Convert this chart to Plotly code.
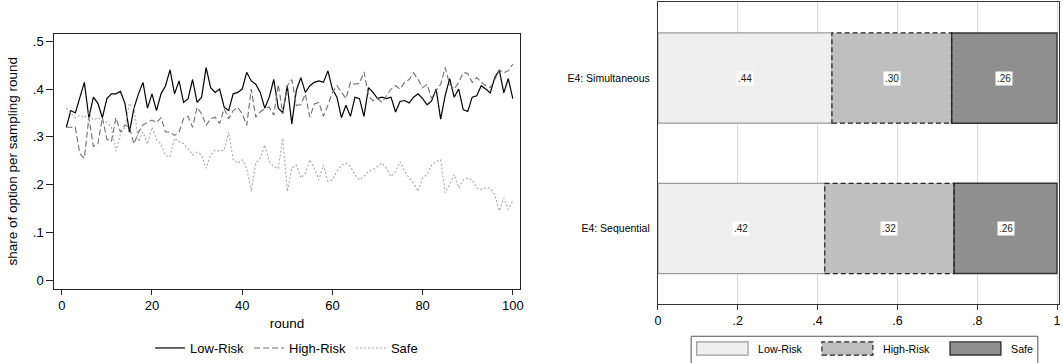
import plotly.graph_objects as go

# ---------------- data ----------------
rounds = list(range(1, 101))

low_risk = [
    .32, .355, .35, .385, .414, .34, .383, .37, .34, .38, .39, .39, .395, .37, .31, .36, .39, .414, .36, .39, .355, .39, .407, .44,
    .39, .417, .372, .38, .42, .372, .383, .445, .403, .393, .40, .362, .355, .39, .393, .40, .435, .417, .41, .393, .36, .383, .42, .36, .35, .407,
    .327, .397, .424, .393, .407, .414, .417, .414, .438, .40, .383, .34, .366, .343, .383, .38, .343, .403, .393, .38, .383, .38, .383, .352, .374, .376, .371,
    .383, .39, .38, .367, .375, .40, .337, .386, .422, .383, .40, .357, .353, .383, .386, .407, .40, .392, .424, .44, .392, .422, .38,
]
high_risk = [
    .32, .32, .32, .265, .255, .34, .28, .285, .34, .295, .29, .34, .31, .325, .32, .285, .31, .325, .33, .335, .33, .34, .31,
    .31, .303, .31, .338, .343, .32, .362, .348, .324, .338, .341, .328, .359, .338, .355, .362, .348, .324, .40, .341, .352, .359, .362, .345, .41, .348, .407, .42,
    .366, .367, .39, .341, .369, .372, .343, .366, .393, .407, .393, .38, .414, .41, .412, .436, .386, .376, .38, .372, .386, .40, .407, .40, .414, .42, .434,
    .42, .403, .41, .38, .397, .41, .445, .41, .40, .414, .434, .433, .414, .424, .414, .407, .403, .42, .44, .434, .438, .452,
]
safe = [
    .36, .35, .34, .345, .34, .35, .335, .34, .335, .33, .32, .27, .305, .32, .37, .36, .29, .31, .285, .32, .295, .285, .26,
    .259, .297, .29, .286, .276, .262, .268, .262, .234, .262, .272, .27, .272, .31, .252, .245, .252, .234, .186, .245, .255, .283, .248, .238, .234, .297, .186, .234,
    .241, .214, .224, .252, .234, .21, .241, .207, .21, .228, .241, .245, .238, .221, .21, .217, .228, .231, .238, .245, .234, .217, .228, .248, .228, .214, .203,
    .186, .214, .221, .241, .248, .252, .183, .2, .221, .193, .21, .214, .21, .193, .19, .193, .193, .179, .145, .172, .148, .166,
]
series_names = ["Low-Risk", "High-Risk", "Safe"]

# right panel (bottom-to-top order)
conditions = ["E4: Sequential", "E4: Simultaneous"]
share_low = [.418, .436]
share_high = [.324, .300]
share_safe = [.258, .264]

y_ticks = [0, .1, .2, .3, .4, .5]
y_ticktext = ["0", ".1", ".2", ".3", ".4", ".5"]
x_ticks = [0, 20, 40, 60, 80, 100]
bar_ticks = [0, .2, .4, .6, .8, 1]
bar_ticktext = ["0", ".2", ".4", ".6", ".8", "1"]

# ---------------- geometry helpers ----------------
W, H = 1063, 363
def px(x):
    return x / W
def py(y):
    return 1 - y / H

FONT = "Liberation Sans, Arial, sans-serif"

fig = go.Figure()

line_styles = [
    dict(color="black", width=1.2, dash="solid"),
    dict(color="#6e6e6e", width=1.1, dash="6px,3px"),
    dict(color="#a8a8a8", width=1.1, dash="2px,2px"),
]
for name, vals, st in zip(series_names, [low_risk, high_risk, safe], line_styles):
    fig.add_trace(go.Scatter(x=rounds, y=vals, mode="lines", name=name, line=st,
                             xaxis="x", yaxis="y", legend="legend"))

# stacked bars
fills = ["#efefef", "#bfbfbf", "#8f8f8f"]
outlines = [dict(color="#9a9a9a", width=1.2), dict(color="rgba(0,0,0,0)", width=0), dict(color="#333333", width=1.4)]
shares = [share_low, share_high, share_safe]
bases = [[0, 0], share_low, [a + b for a, b in zip(share_low, share_high)]]
for name, vals, base, fc, ol in zip(series_names, shares, bases, fills, outlines):
    fig.add_trace(go.Bar(x=vals, y=conditions, base=base, orientation="h", width=0.6,
                         marker=dict(color=fc, line=ol), name=name, showlegend=False,
                         xaxis="x2", yaxis="y2"))

shapes = []
annotations = []
# dashed outline for High-Risk segments
for i, (b, v) in enumerate(zip(share_low, share_high)):
    shapes.append(dict(type="rect", xref="x2", yref="y2", x0=b, x1=b + v, y0=i - 0.3, y1=i + 0.3,
                       line=dict(color="#222", width=1.2, dash="5px,3px"), layer="above"))
# value labels
for vals, base in zip(shares, bases):
    for i, (v, b) in enumerate(zip(vals, base)):
        annotations.append(dict(x=b + v / 2, y=conditions[i], xref="x2", yref="y2",
                                text=("%.2f" % v).lstrip("0"), showarrow=False,
                                bgcolor="white", borderpad=1,
                                font=dict(family=FONT, size=10, color="#222")))

# manual legend for right panel
shapes.append(dict(type="rect", xref="paper", yref="paper", x0=px(692.7), x1=px(1041.7),
                   y0=py(368), y1=py(340), line=dict(color="#555", width=1), fillcolor="white", layer="below"))
sw = [(698.3, 750), (824.3, 875.7), (953.3, 1004.5)]
txt_x = [758, 884.3, 1012.7]
sw_lines = [dict(color="#9a9a9a", width=1.2), dict(color="#222", width=1.2, dash="5px,3px"), dict(color="#333", width=1.4)]
for (a, b), tx, fc, ln, name in zip(sw, txt_x, fills, sw_lines, series_names):
    shapes.append(dict(type="rect", xref="paper", yref="paper", x0=px(a), x1=px(b),
                       y0=py(359), y1=py(345.7), fillcolor=fc, line=ln))
    annotations.append(dict(x=px(tx), y=py(352.5), xref="paper", yref="paper", text=name,
                            showarrow=False, xanchor="left", yanchor="middle",
                            font=dict(family=FONT, size=10.7, color="black")))

axis_common = dict(showline=True, linecolor="#222", linewidth=1.2, mirror=True,
                   zeroline=False, showgrid=False, ticks="outside", tickcolor="#222")

fig.update_layout(
    width=W, height=H, margin=dict(l=0, r=0, t=0, b=0),
    paper_bgcolor="white", plot_bgcolor="white",
    font=dict(family=FONT, color="black"),
    barmode="overlay",
    xaxis=dict(domain=[px(51.7), px(520)], range=[-1.65, 101.5], tickvals=x_ticks,
               ticklen=5, tickfont=dict(size=13),
               title=dict(text="round", font=dict(size=13.5), standoff=6), **axis_common),
    yaxis=dict(domain=[py(292), py(34)], range=[-0.018, 0.516], tickvals=y_ticks, ticktext=y_ticktext,
               ticklen=7, tickfont=dict(size=13),
               title=dict(text="share of option per sampling round", font=dict(size=13.5), standoff=12),
               **axis_common),
    xaxis2=dict(domain=[px(659.3), 1], range=[0, 1.005], tickvals=bar_ticks, ticktext=bar_ticktext,
                anchor="y2", showline=True, linecolor="#333", linewidth=1.2, mirror=True,
                zeroline=False, showgrid=True, gridcolor="#dcdcdc", gridwidth=1,
                ticks="outside", ticklen=5, tickcolor="#333", tickfont=dict(size=12.5)),
    yaxis2=dict(domain=[py(307), py(1.7)], range=[-0.5, 1.508], anchor="x2",
                categoryorder="array", categoryarray=conditions,
                showline=True, linecolor="#333", linewidth=1.2, mirror=True,
                showgrid=False, zeroline=False, ticks="", ticklabelstandoff=5,
                tickfont=dict(size=10.5)),
    legend=dict(orientation="h", x=px(285.5), xanchor="center", y=py(352), yanchor="middle",
                font=dict(size=13), bgcolor="rgba(0,0,0,0)", itemwidth=30, tracegroupgap=0),
    shapes=shapes, annotations=annotations,
)

fig.write_html("out.html", config={"displayModeBar": False},
               post_script="document.body.style.margin='0px';document.body.style.overflow='hidden';")
